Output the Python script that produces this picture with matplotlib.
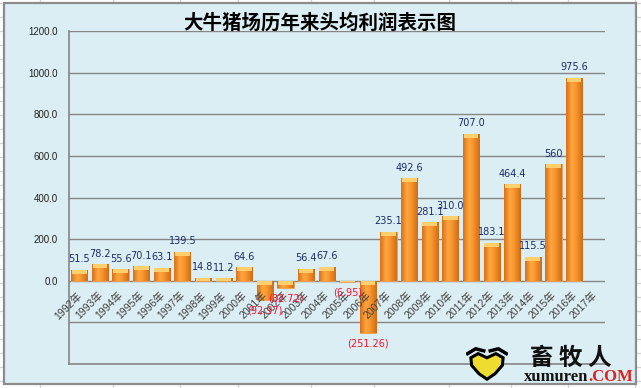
import numpy as np
import matplotlib
matplotlib.use("Agg")
import matplotlib.pyplot as plt
import matplotlib.transforms as mtransforms
from matplotlib.colors import LinearSegmentedColormap
from matplotlib.patches import Rectangle, Polygon
from matplotlib.lines import Line2D

# data
years = ['1992年', '1993年', '1994年', '1995年', '1996年', '1997年', '1998年',
         '1999年', '2000年', '2001年', '2002年', '2003年', '2004年', '2005年',
         '2006年', '2007年', '2008年', '2009年', '2010年', '2011年', '2012年',
         '2013年', '2014年', '2015年', '2016年', '2017年']
profit = [51.5, 78.2, 55.6, 70.1, 63.1, 139.5, 14.8, 11.2, 64.6, -92.97,
          -32.72, 56.4, 67.6, -6.95, -251.26, 235.1, 492.6, 281.1, 310.0,
          707.0, 183.1, 464.4, 115.5, 560.0, 975.6]
value_labels = ['51.5', '78.2', '55.6', '70.1', '63.1', '139.5', '14.8', '11.2',
                '64.6', '(92.97)', '(32.72)', '56.4', '67.6', '(6.95)',
                '(251.26)', '235.1', '492.6', '281.1', '310.0', '707.0',
                '183.1', '464.4', '115.5', '560', '975.6']
yticks = [-400, -200, 0, 200, 400, 600, 800, 1000, 1200]

title = '大牛猪场历年来头均利润表示图'
W, H = 641, 388
bg = '#DBEEF4'
grid_c = '#868686'
navy = '#1C2C6A'

fig = plt.figure(figsize=(W / 100, H / 100), dpi=100, facecolor='white')

# excel cell grid behind the chart
for xv in [40, 113, 180, 238, 311, 374, 449, 511, 568, 635]:
    fig.add_artist(Line2D([xv / W, xv / W], [0, 1], color='#D4D4D4', lw=1, zorder=-3))
for yv in np.arange(3, H, 14):
    fig.add_artist(Line2D([0, 1], [1 - yv / H, 1 - yv / H], color='#D4D4D4', lw=1, zorder=-3))

# chart area
fig.add_artist(Rectangle((4 / W, 1 - 384 / H), 632 / W, 381 / H, transform=fig.transFigure,
                         facecolor=bg, edgecolor='#8C8C8C', lw=1.6, zorder=-1))

ax = fig.add_axes([69 / W, 1 - 364 / H, (605 - 69) / W, (364 - 31) / H])
ax.set_facecolor('none')

x = np.arange(len(years))
bars = ax.bar(x[:len(profit)], profit, width=0.78, color='#F5962E',
              edgecolor='#E9A15A', linewidth=0.6, zorder=3)

ax.set_xlim(-0.5, len(years) - 0.5)
ax.set_ylim(-400, 1200)

# gradient fill + light top cap on each bar
cmap = LinearSegmentedColormap.from_list('bar', [(0, '#D87219'), (0.35, '#FFA63F'),
                                                 (0.55, '#FB9A30'), (1, '#D06C17')])
grad = np.linspace(0, 1, 64).reshape(1, -1)
px_per_unit = ax.get_position().height * H / 1600
cap_h = 4 / px_per_unit
for b in bars:
    bx, bw = b.get_x(), b.get_width()
    y0, y1 = sorted([b.get_y(), b.get_y() + b.get_height()])
    im = ax.imshow(grad, extent=[bx, bx + bw, y0, y1], aspect='auto', cmap=cmap,
                   zorder=3.5, interpolation='bilinear')
    im.set_clip_path(b)
    ch = min(cap_h, y1 - y0)
    ax.add_patch(Rectangle((bx + bw * 0.04, y1 - ch), bw * 0.92, ch,
                           facecolor='#FFCF6E', edgecolor='none', zorder=3.6))
ax.set_xlim(-0.5, len(years) - 0.5)
ax.set_ylim(-400, 1200)

# axes styling
ax.set_yticks(yticks)
ax.set_yticklabels(['' if v < 0 else f'{v:.1f}' for v in yticks],
                   fontsize=7, family='Liberation Sans', color='#222222')
ax.tick_params(axis='y', length=0, pad=8)
ax.set_xticks([])
ax.yaxis.grid(True, color=grid_c, lw=1)
ax.set_axisbelow(True)
for s in ['top', 'right']:
    ax.spines[s].set_visible(False)
for s in ['left', 'bottom']:
    ax.spines[s].set_color(grid_c)
    ax.spines[s].set_linewidth(1.2)

# category labels along the zero line
off = mtransforms.ScaledTranslation(1 / 100, -13 / 100, fig.dpi_scale_trans)
for i, yr in enumerate(years):
    ax.text(i, 0, yr, rotation=45, rotation_mode='anchor', ha='right', va='center',
            fontsize=7.5, color='#404040', family=['Liberation Sans', 'Noto Sans CJK SC'],
            transform=ax.transData + off, zorder=4)

# value labels
for xi, v, s in zip(x, profit, value_labels):
    if v >= 0:
        ax.annotate(s, (xi, v), xytext=(0, 4), textcoords='offset points', ha='center',
                    va='bottom', fontsize=7, color=navy, family='DejaVu Sans', zorder=5)
    else:
        ax.annotate(s, (xi, v), xytext=(0, -4), textcoords='offset points', ha='center',
                    va='top', fontsize=7, color='#FF1030', family='DejaVu Sans', zorder=5)

fig.text(0.4985, 1 - 23 / H, title, ha='center', va='center', fontsize=14,
         fontweight='bold', family='Noto Sans CJK SC', color='black')

# watermark logo
fig.text(571 / W, 1 - 358 / H, '畜 牧 人', ha='center', va='center', fontsize=17,
         fontweight='bold', family='Noto Sans CJK SC', color='#111111')
fig.text(588 / W, 1 - 377 / H, 'xumuren', ha='right', va='center', fontsize=12,
         fontweight='bold', family='Liberation Serif', color='#111111')
fig.text(588 / W, 1 - 377 / H, '.COM', ha='left', va='center', fontsize=12,
         fontweight='bold', family='Liberation Serif', color='#E0201C')
lax = fig.add_axes([466 / W, 1 - 382 / H, 42 / W, 36 / H])
lax.set_xlim(-1.3, 1.3)
lax.set_ylim(-1.3, 1.3)
lax.axis('off')
heart = [(-1.0, 0.45), (-0.55, 0.75), (0.0, 0.45), (0.55, 0.75), (1.0, 0.45),
         (0.95, -0.1), (0.5, -0.7), (0.0, -1.1), (-0.5, -0.7), (-0.95, -0.1)]
lax.add_patch(Polygon(heart, closed=True, facecolor='#EEDD30', edgecolor='black', lw=2.2))
lax.plot([-1.2, -0.7, -0.2], [0.75, 1.1, 0.95], color='black', lw=2.5)
lax.plot([1.2, 0.7, 0.2], [0.75, 1.1, 0.95], color='black', lw=2.5)

fig.savefig('out.png', dpi=100, facecolor='white')
